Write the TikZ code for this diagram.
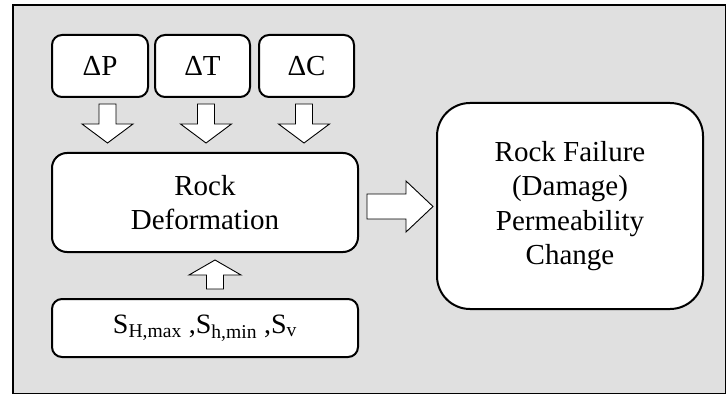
\documentclass[tikz,border=0pt]{standalone}
\usepackage{fontspec}
\setmainfont{Liberation Serif}
\definecolor{panelgray}{HTML}{E0E0E0}
\tikzset{
  rbox/.style={draw=black, line width=2pt, fill=white, rounded corners=10pt, inner sep=0pt, align=center,
     font=\fontsize{29}{34.5}\selectfont},
  blockarr/.style={draw=black, line width=0.9pt, fill=white, line join=miter},
  pics/dnarrow/.style={code={\draw[blockarr] (-8.5,0) -- (8.5,0) -- (8.5,20) -- (25.5,20) -- (0,39) -- (-25.5,20) -- (-8.5,20) -- cycle;}},
  pics/uparrow/.style={code={\draw[blockarr] (-8.5,0) -- (8.5,0) -- (8.5,-14) -- (26,-14) -- (0,-29) -- (-26,-14) -- (-8.5,-14) -- cycle;}},
  pics/rtarrow/.style={code={\draw[blockarr] (0,-12.5) -- (39,-12.5) -- (39,-25.5) -- (66,0) -- (39,25.5) -- (39,12.5) -- (0,12.5) -- cycle;}},
}
\begin{document}
\begin{tikzpicture}[x=1pt,y=-1pt]
\useasboundingbox (0,0) rectangle (727,395);
\draw[fill=panelgray, line width=1.3pt] (13,5) rectangle (725.5,393.5);
\node[rbox, minimum width=96pt, minimum height=62pt] (dP) at (100,66) {ΔP};
\node[rbox, minimum width=95pt, minimum height=62pt] (dT) at (202.5,66) {ΔT};
\node[rbox, minimum width=95pt, minimum height=62pt] (dC) at (306.5,66) {ΔC};
\node[rbox, rounded corners=15pt, minimum width=306pt, minimum height=99pt] (def) at (205,202.5) {Rock\\Deformation};
\node[rbox, minimum width=306pt, minimum height=58pt, font=\fontsize{28}{33}\selectfont] (str) at (205,328)
   {S\textsubscript{H,max} ,S\textsubscript{h,min} ,S\textsubscript{v}};
\node[rbox, rounded corners=33pt, minimum width=266pt, minimum height=206pt] (fail) at (570,206)
   {Rock Failure\\(Damage)\\Permeability\\Change};
\pic at (107.5,104) {dnarrow};
\pic at (206,104) {dnarrow};
\pic at (304,104) {dnarrow};
\pic at (215,289) {uparrow};
\pic at (367,206.5) {rtarrow};
\end{tikzpicture}
\end{document}
